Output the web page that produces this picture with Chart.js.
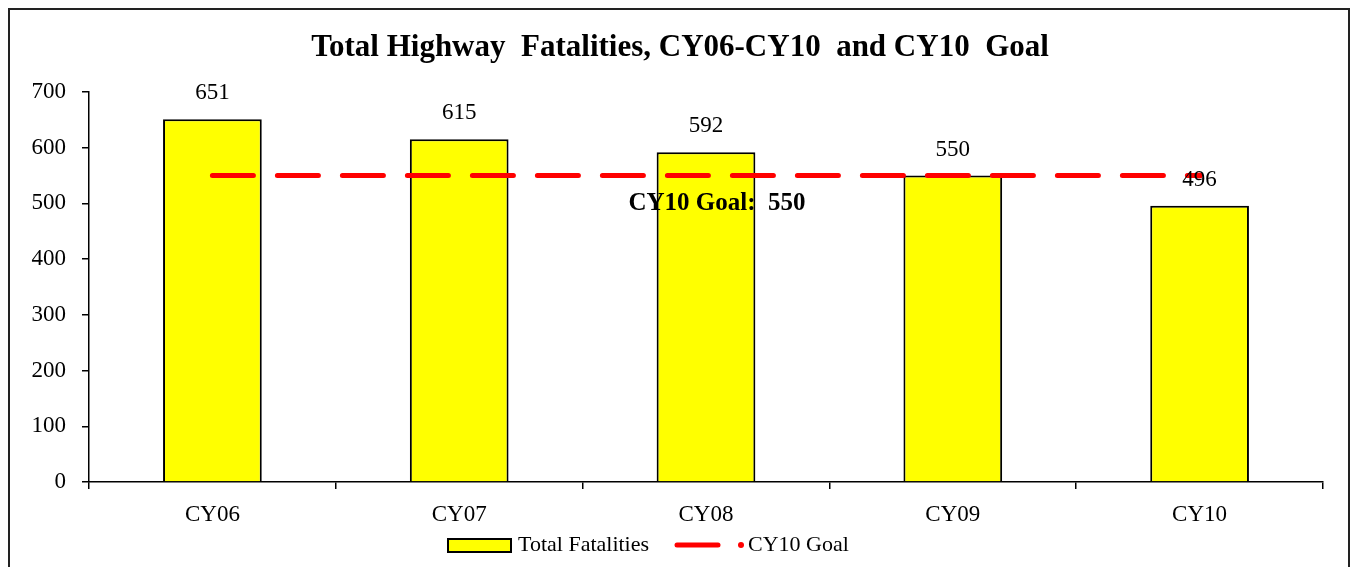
<!DOCTYPE html>
<html>
<head>
<meta charset="utf-8">
<script src="https://cdn.jsdelivr.net/npm/chart.js@4/dist/chart.umd.min.js"></script>
<style>
  html, body { margin: 0; padding: 0; background: #fff; }
  #wrap { width: 1351px; height: 567px; }
</style>
</head>
<body>
<div id="wrap"><canvas id="chart" width="1351" height="567"></canvas></div>
<script>
// datos del grafico
const years = ['CY06', 'CY07', 'CY08', 'CY09', 'CY10'];
const fatalities = [651, 615, 592, 550, 496];
const goal = [550, 550, 550, 550, 550];
const goalLabel = 'CY10 Goal:  550';
const yTicks = [0, 100, 200, 300, 400, 500, 600, 700];
const titleText = 'Total Highway  Fatalities, CY06-CY10  and CY10  Goal';

const serif = '"Liberation Serif", "Times New Roman", serif';

// borde, titulo, etiquetas y leyenda
const extras = {
  id: 'extras',
  afterDraw(chart) {
    const ctx = chart.ctx;
    ctx.save();

    // recuadro exterior
    ctx.strokeStyle = '#222';
    ctx.lineWidth = 2;
    ctx.beginPath();
    ctx.moveTo(9, 567);
    ctx.lineTo(9, 9);
    ctx.lineTo(1349, 9);
    ctx.lineTo(1349, 567);
    ctx.stroke();

    // titulo (un poco corrido a la derecha, como en el original)
    ctx.fillStyle = '#000';
    ctx.textAlign = 'center';
    ctx.textBaseline = 'middle';
    ctx.font = 'bold 31px ' + serif;
    ctx.fillText(titleText, 680, 48);

    // valores encima de las barras
    ctx.font = '23px ' + serif;
    const bars = chart.getDatasetMeta(1).data;
    bars.forEach((bar, i) => {
      ctx.fillText(String(fatalities[i]), bar.x, bar.y - 26);
    });

    // etiqueta de la meta
    const pts = chart.getDatasetMeta(0).data;
    ctx.font = 'bold 25px ' + serif;
    ctx.fillText(goalLabel, pts[2].x + 11, pts[2].y + 28);

    // leyenda
    const ly = 545;
    ctx.fillStyle = '#ffff00';
    ctx.fillRect(448, ly - 6, 63, 13);
    ctx.strokeStyle = '#000';
    ctx.lineWidth = 2;
    ctx.strokeRect(448, ly - 6, 63, 13);

    ctx.fillStyle = '#000';
    ctx.font = '22px ' + serif;
    ctx.textAlign = 'left';
    ctx.fillText('Total Fatalities', 518, ly);

    ctx.strokeStyle = '#ff0000';
    ctx.lineWidth = 5;
    ctx.lineCap = 'round';
    ctx.beginPath();
    ctx.moveTo(677, ly);
    ctx.lineTo(718, ly);
    ctx.stroke();
    ctx.fillStyle = '#ff0000';
    ctx.beginPath();
    ctx.arc(741, ly, 3, 0, Math.PI * 2);
    ctx.fill();

    ctx.fillStyle = '#000';
    ctx.fillText('CY10 Goal', 748, ly);
    ctx.restore();
  }
};

const ctx = document.getElementById('chart');
const chart = new Chart(ctx, {
  type: 'bar',
  data: {
    labels: years,
    datasets: [{
      type: 'line',
      label: 'CY10 Goal',
      data: goal,
      order: 0,
      borderColor: '#ff0000',
      backgroundColor: '#ff0000',
      borderWidth: 5,
      borderDash: [41, 24],
      borderCapStyle: 'round',
      pointRadius: [0, 0, 0, 0, 3],
      pointBorderWidth: 0,
      fill: false,
      tension: 0
    }, {
      label: 'Total Fatalities',
      data: fatalities,
      order: 1,
      backgroundColor: '#ffff00',
      borderColor: '#000',
      borderWidth: 2,
      categoryPercentage: 1,
      barPercentage: 0.4
    }]
  },
  options: {
    responsive: false,
    animation: false,
    layout: { padding: { left: 0, right: 28, top: 92, bottom: 0 } },
    plugins: {
      legend: { display: false },
      tooltip: { enabled: false },
      title: { display: false }
    },
    scales: {
      x: {
        afterFit(scale) { scale.height = 85; },
        border: { color: '#000', width: 1.5 },
        grid: { drawOnChartArea: false, color: '#000', tickLength: 7, offset: true, lineWidth: 1.5 },
        ticks: { color: '#000', font: { family: serif, size: 23 }, padding: 12 }
      },
      y: {
        min: 0,
        max: 700,
        afterFit(scale) { scale.width = 89; },
        afterBuildTicks(scale) { scale.ticks = yTicks.map(v => ({ value: v })); },
        border: { color: '#000', width: 1.5 },
        grid: { drawOnChartArea: false, color: '#000', tickLength: 7, lineWidth: 1.5 },
        ticks: { color: '#000', font: { family: serif, size: 23 }, padding: 16 }
      }
    }
  },
  plugins: [extras]
});
</script>
</body>
</html>
